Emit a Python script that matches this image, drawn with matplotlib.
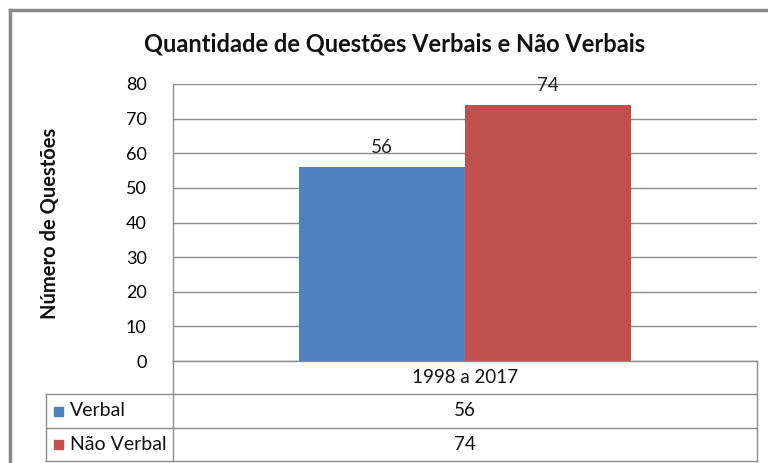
import matplotlib
matplotlib.use("Agg")
import matplotlib.pyplot as plt
from matplotlib.patches import Rectangle
from matplotlib.lines import Line2D

plt.rcParams['font.family'] = ['Lato', 'DejaVu Sans']

title = "Quantidade de Questões Verbais e Não Verbais"
ylabel = "Número de Questões"
category = "1998 a 2017"
series_names = ["Verbal", "Não Verbal"]
series_values = [56, 74]
series_colors = ["#4F81BD", "#C0504D"]
yticks = [0, 10, 20, 30, 40, 50, 60, 70, 80]

W, H = 768, 463
fig = plt.figure(figsize=(W / 100, H / 100), dpi=100)

def fx(px):
    return px / W

def fy(py):
    return 1 - py / H

# plot area (pixel coords)
L, R, T, B = 173, 757, 84, 361
ax = fig.add_axes([fx(L), fy(B), fx(R) - fx(L), fy(T) - fy(B)])

bw = 0.284
for i, (name, v, c) in enumerate(zip(series_names, series_values, series_colors)):
    x0 = -bw + i * bw
    ax.bar(x0, v, width=bw, align='edge', color=c, zorder=3)
    ax.text(x0 + bw / 2, v + 3.2, str(v), ha='center', va='bottom', fontsize=13.5, color='#222222')

ax.set_xlim(-0.5, 0.5)
ax.set_ylim(0, 80)
ax.set_yticks(yticks)
ax.set_yticklabels([str(t) for t in yticks], fontsize=13)
ax.tick_params(axis='y', length=0, pad=19)
ax.set_xticks([])
ax.yaxis.grid(True, color='#8C8C8C', linewidth=1, zorder=0)
for s in ['top', 'right', 'bottom']:
    ax.spines[s].set_visible(False)
ax.spines['left'].set_color('#8C8C8C')
ax.spines['left'].set_linewidth(1)

fig.text(fx(395), fy(44), title, ha='center', va='center', fontsize=17, fontweight='bold', color='#111111')
fig.text(fx(50), fy(223), ylabel, ha='center', va='center', rotation=90, fontsize=14.5, fontweight='bold', color='#111111')

# outer chart border
lc = '#8C8C8C'
fig.add_artist(Line2D([fx(10), fx(10)], [fy(10), fy(463)], color='#888888', lw=2.5, transform=fig.transFigure))
fig.add_artist(Line2D([fx(10), fx(768)], [fy(10), fy(10)], color='#888888', lw=2.5, transform=fig.transFigure))

# data table
rows = [361, 394, 428, 461]
LL = 46
def hline(x0, x1, y):
    fig.add_artist(Line2D([fx(x0), fx(x1)], [fy(y), fy(y)], color=lc, lw=1, transform=fig.transFigure))
def vline(x, y0, y1):
    fig.add_artist(Line2D([fx(x), fx(x)], [fy(y0), fy(y1)], color=lc, lw=1, transform=fig.transFigure))

hline(L, R, rows[0])
hline(LL, R, rows[1])
hline(LL, R, rows[2])
hline(LL, R, rows[3])
vline(L, rows[0], rows[3])
vline(R, rows[0], rows[3])
vline(LL, rows[1], rows[3])

fig.text(fx((L + R) / 2), fy((rows[0] + rows[1]) / 2), category, ha='center', va='center', fontsize=13.5, color='#111111')
for i, (name, v, c) in enumerate(zip(series_names, series_values, series_colors)):
    yc = (rows[i + 1] + rows[i + 2]) / 2
    fig.add_artist(Rectangle((fx(54), fy(yc + 4.5)), fx(9), 9 / H, color=c, transform=fig.transFigure))
    fig.text(fx(70), fy(yc), name, ha='left', va='center', fontsize=14, color='#111111')
    fig.text(fx((L + R) / 2), fy(yc), str(v), ha='center', va='center', fontsize=13.5, color='#111111')

fig.savefig("out.png", dpi=100)
